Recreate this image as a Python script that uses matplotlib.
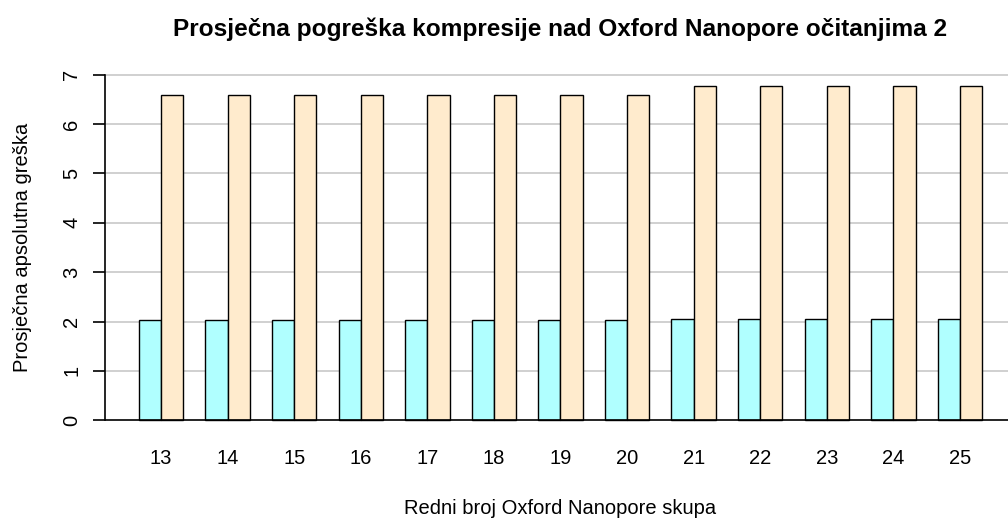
import matplotlib.pyplot as plt
import numpy as np

plt.rcParams["font.family"] = ["Liberation Sans", "DejaVu Sans"]

skupovi = [13, 14, 15, 16, 17, 18, 19, 20, 21, 22, 23, 24, 25]
greska_a = [2.03, 2.03, 2.03, 2.03, 2.03, 2.03, 2.03, 2.03, 2.05, 2.05, 2.05, 2.05, 2.05]
greska_b = [6.59, 6.59, 6.59, 6.59, 6.59, 6.59, 6.59, 6.59, 6.78, 6.78, 6.78, 6.78, 6.78]

W, H = 1008, 519
fig = plt.figure(figsize=(W / 100, H / 100), dpi=100)
# R-style plot region (extends a bit past the right edge, like the original)
left, right, top, bottom = 105, 1016, 61, 434
ax = fig.add_axes([left / W, (H - bottom) / H, (right - left) / W, (bottom - top) / H])

# R barplot(beside=TRUE, space=c(0,1)) positions
idx = np.arange(len(skupovi))
centers = 2 + 3 * idx

for y in range(1, 8):
    ax.axhline(y, color="#c8c8c8", lw=1.2, zorder=0)

ax.bar(centers - 0.5, greska_a, width=1, color="#b0ffff", edgecolor="black", lw=1, zorder=2)
ax.bar(centers + 0.5, greska_b, width=1, color="#ffebcd", edgecolor="black", lw=1, zorder=2)
ax.axhline(0, color="black", lw=1.2, zorder=3)

ax.set_xlim(-0.52, 40.52)
ax.set_ylim(-0.28, 7.28)
for s in ax.spines.values():
    s.set_visible(False)

ax.set_xticks(centers)
ax.set_xticklabels(skupovi, fontsize=14.5)
ax.tick_params(axis="x", length=0, pad=11)

ax.set_yticks(range(8))
ax.set_yticklabels(range(8), fontsize=14.5, rotation=90, va="center")
ax.tick_params(axis="y", length=9, width=1.2, pad=8)
ax.plot([-0.52, -0.52], [0, 7], color="black", lw=1.2, clip_on=False, zorder=4)

ax.set_xlabel("Redni broj Oxford Nanopore skupa", fontsize=14.5, labelpad=22)
ax.set_ylabel("Prosječna apsolutna greška", fontsize=14.5, labelpad=22)
ax.set_title("Prosječna pogreška kompresije nad Oxford Nanopore očitanjima 2",
             fontsize=17.6, fontweight="bold", pad=18)

fig.savefig("out.png", dpi=100)
